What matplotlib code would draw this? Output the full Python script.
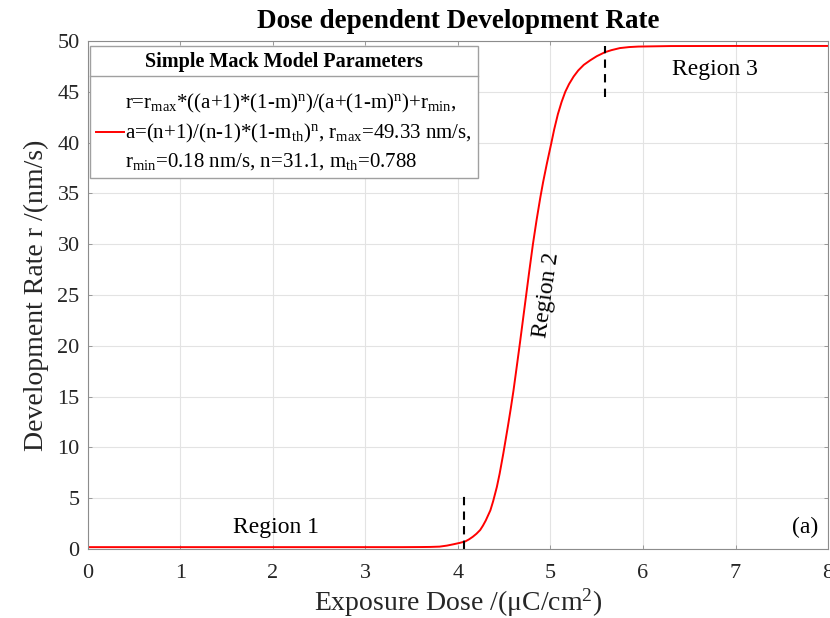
import matplotlib

matplotlib.use("Agg")
import matplotlib.pyplot as plt  # noqa: E402
from matplotlib.lines import Line2D  # noqa: E402

# values
dose = [0, 1, 2, 3, 3.4, 3.6, 3.7, 3.8, 3.88, 3.95, 4.02, 4.08, 4.12, 4.16, 4.20,
        4.24, 4.27, 4.30, 4.32, 4.35, 4.38, 4.42, 4.45, 4.49, 4.54, 4.57, 4.60,
        4.63, 4.67, 4.70, 4.74, 4.77, 4.81, 4.85, 4.89, 4.92, 4.96, 5.01, 5.04,
        5.08, 5.12, 5.16, 5.20, 5.25, 5.30, 5.36, 5.43, 5.50, 5.59, 5.66, 5.75,
        5.85, 5.95, 6.3, 7, 8]
rate = [0.18, 0.18, 0.18, 0.18, 0.18, 0.19, 0.20, 0.23, 0.33, 0.46, 0.6, 0.75, 0.95,
        1.2, 1.5, 1.87, 2.3, 2.8, 3.2, 3.8, 4.7, 6.1, 7.4, 9.4, 12.1, 13.8, 15.6,
        17.6, 20.3, 22.4, 25.2, 27.3, 30.0, 32.4, 34.6, 36.1, 37.9, 40.0, 41.3,
        42.8, 44.0, 45.0, 45.75, 46.5, 47.1, 47.65, 48.1, 48.5, 48.9, 49.1, 49.3,
        49.4, 49.45, 49.5, 49.51, 49.51]

# region boundaries (dashed markers)
bound_x = [4.07, 5.59]
bound_lo = [0.0, 44.5]
bound_hi = [5.2, 49.5]

region_text = ["Region 1", "Region 2", "Region 3", "(a)"]
region_x = [2.03, 4.96, 6.78, 7.75]
region_y = [2.07, 25.0, 47.2, 2.07]
region_rot = [0, 82, 0, 0]

legend_title = "Simple Mack Model Parameters"
legend_label = (
    r"r=r$_{\mathrm{max}}$*((a+1)*(1-m)$^{\mathrm{n}}$)/(a+(1-m)$^{\mathrm{n}}$)+r$_{\mathrm{min}}$," "\n"
    r"a=(n+1)/(n-1)*(1-m$_{\mathrm{th}}$)$^{\mathrm{n}}$, r$_{\mathrm{max}}$=49.33 nm/s," "\n"
    r"r$_{\mathrm{min}}$=0.18 nm/s, n=31.1, m$_{\mathrm{th}}$=0.788"
)

plt.rcParams["font.family"] = ["Liberation Serif", "DejaVu Serif"]
plt.rcParams["mathtext.fontset"] = "custom"
plt.rcParams["mathtext.rm"] = "Liberation Serif"
plt.rcParams["mathtext.it"] = "Liberation Serif:italic"
plt.rcParams["mathtext.bf"] = "Liberation Serif:bold"

axis_col = "#8c8c8c"
text_col = "#262626"

fig = plt.figure(figsize=(8.3, 6.18), dpi=100)
ax = fig.add_axes([0.106, 0.1117, 0.8916, 0.822])

(curve,) = ax.plot(dose, rate, color="#ff0000", linewidth=1.4)

for x, lo, hi in zip(bound_x, bound_lo, bound_hi):
    ax.plot([x, x], [lo, hi], color="black", linewidth=1.5, linestyle=(0, (4, 3)))

for t, x, y, r in zip(region_text, region_x, region_y, region_rot):
    ax.text(x, y, t, fontsize=17, ha="center", va="center", rotation=r, color="black")

ax.set_xlim(0, 8)
ax.set_ylim(0, 50)
ax.set_xticks(range(0, 9))
ax.set_yticks(range(0, 51, 5))
ax.grid(True, color="#e3e3e3", linewidth=0.8)
ax.set_axisbelow(True)
ax.tick_params(direction="in", length=3, width=0.6, color=axis_col,
               labelsize=16, labelcolor=text_col, top=True, right=True)
ax.tick_params(axis="x", pad=11)
ax.tick_params(axis="y", pad=6)
for sp in ax.spines.values():
    sp.set_color(axis_col)
    sp.set_linewidth(0.8)

ax.set_xlabel(r"Exposure Dose /($\mathrm{\mu}$C/cm$^{\mathrm{2}}$)", fontsize=20, color=text_col, labelpad=2)
ax.set_ylabel("Development Rate r /(nm/s)", fontsize=20, color=text_col, labelpad=6)
ax.set_title("Dose dependent Development Rate", fontsize=19.5, fontweight="bold", pad=9)

leg = ax.legend(
    [curve], [legend_label],
    loc="upper left", bbox_to_anchor=(0.0030, 0.990), borderaxespad=0,
    title=legend_title, title_fontproperties={"weight": "bold", "size": 14.5},
    fontsize=15, frameon=True, fancybox=False, framealpha=1, edgecolor="#a0a0a0",
    handlelength=1.3, handletextpad=0.05, borderpad=0.3, labelspacing=0.95,
)
leg.get_frame().set_linewidth(1.0)
for txt in leg.get_texts():
    txt.set_multialignment("left")
    txt.set_linespacing(1.4)

# separator under the legend title
fig.canvas.draw()
rend = fig.canvas.get_renderer()
tb = leg.get_title().get_window_extent(rend)
fb = leg.get_frame().get_window_extent(rend)
W, H = fig.bbox.width, fig.bbox.height
ysep = tb.y0 - 4
fig.add_artist(Line2D([fb.x0 / W, fb.x1 / W], [ysep / H, ysep / H],
                      transform=fig.transFigure, color="#a0a0a0", linewidth=1.0))

fig.savefig("out.png", dpi=100)
plt.close(fig)
